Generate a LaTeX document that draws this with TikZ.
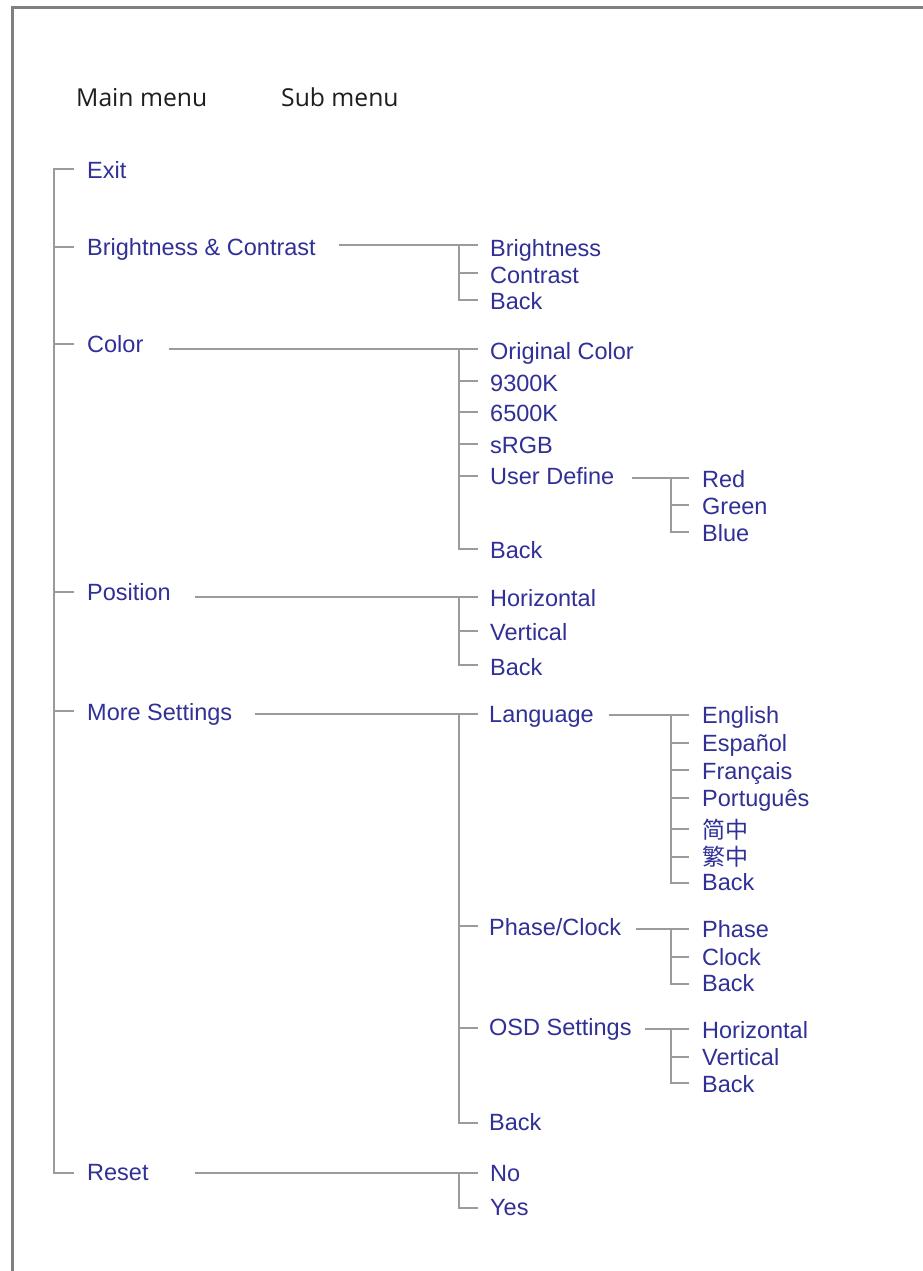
\documentclass[tikz,border=0pt]{standalone}
\usepackage{fontspec}
\setmainfont{Liberation Sans}
\newfontfamily\headfont{Open Sans}
\newfontfamily\cjk{Noto Sans CJK SC}
\definecolor{txtblue}{RGB}{48,48,150}
\definecolor{linegray}{RGB}{155,155,155}
\definecolor{framegray}{RGB}{128,128,128}
\definecolor{headgray}{RGB}{30,30,30}
% name, tick x0, tick x1, text x, tick y, baseline y, text
\newcommand\mitem[7]{%
  \coordinate (#1-a) at (#2,#5);
  \coordinate (#1-b) at (#3,#5);
  \node[lbl] (#1) at (#4,#6) {#7};
  \draw[ln] (#1-a) -- (#1-b);
}
\begin{document}
\begin{tikzpicture}[x=1pt,y=-1pt,
  lbl/.style={inner sep=0pt, anchor=base west, text=txtblue, font=\fontsize{23.5}{26}\selectfont},
  head/.style={inner sep=0pt, anchor=base west, text=headgray, font=\headfont\fontsize{24.7}{27}\selectfont},
  ln/.style={draw=linegray, line width=2.2pt, line cap=rect},
  frame/.style={draw=framegray, line width=3pt}]
\useasboundingbox (0,0) rectangle (923,1271);
\fill[white] (0,0) rectangle (923,1271);
\draw[frame] (12,1271) -- (12,8) -- (923,8);

\node[head] (mainh) at (76,107) {Main menu};
\node[head] (subh) at (281,107) {Sub menu};

% main menu
\mitem{exit}{54}{73}{87}{169}{178}{Exit}
\mitem{bc}{54}{73}{87}{247}{255}{Brightness \& Contrast}
\mitem{color}{54}{73}{87}{344}{352}{Color}
\mitem{pos}{54}{73}{87}{592}{600}{Position}
\mitem{more}{54}{73}{87}{711}{720}{More Settings}
\mitem{reset}{54}{73}{87}{1173}{1180}{Reset}
\draw[ln] (exit-a) -- (reset-a);

% Brightness & Contrast
\mitem{bright}{459}{477}{490}{245}{256}{Brightness}
\mitem{contrast}{459}{477}{490}{273}{283}{Contrast}
\mitem{bback}{459}{477}{490}{300}{309}{Back}
\draw[ln] (bright-a) -- (bback-a);
\coordinate (bc-o) at (340,245);
\draw[ln] (bc-o) -- (bright-b);

% Color
\mitem{orig}{459}{477}{490}{349}{359}{Original Color}
\mitem{k93}{459}{477}{490}{381}{391}{9300K}
\mitem{k65}{459}{477}{490}{412}{421}{6500K}
\mitem{srgb}{459}{477}{490}{444}{453}{sRGB}
\mitem{user}{459}{477}{490}{476}{484}{User Define}
\mitem{cback}{459}{477}{490}{549}{558}{Back}
\draw[ln] (orig-a) -- (cback-a);
\coordinate (color-o) at (170,349);
\draw[ln] (color-o) -- (orig-b);

\mitem{red}{671}{688}{702}{478}{487}{Red}
\mitem{green}{671}{688}{702}{505}{514}{Green}
\mitem{blue}{671}{688}{702}{532}{541}{Blue}
\draw[ln] (red-a) -- (blue-a);
\coordinate (user-o) at (633,478);
\draw[ln] (user-o) -- (red-b);

% Position
\mitem{horiz}{459}{477}{490}{597}{606}{Horizontal}
\mitem{vert}{459}{477}{490}{631}{640}{Vertical}
\mitem{pback}{459}{477}{490}{665}{675}{Back}
\draw[ln] (horiz-a) -- (pback-a);
\coordinate (pos-o) at (196,597);
\draw[ln] (pos-o) -- (horiz-b);

% More Settings
\mitem{lang}{459}{477}{489}{714}{722}{Language}
\mitem{pc}{459}{477}{489}{926}{935}{Phase/Clock}
\mitem{osd}{459}{477}{489}{1028}{1035}{OSD Settings}
\mitem{mback}{459}{477}{489}{1123}{1130}{Back}
\draw[ln] (lang-a) -- (mback-a);
\coordinate (more-o) at (256,714);
\draw[ln] (more-o) -- (lang-b);

\mitem{en}{671}{688}{702}{715}{723}{English}
\mitem{es}{671}{688}{702}{743}{751}{Español}
\mitem{fr}{671}{688}{702}{770}{779}{Français}
\mitem{pt}{671}{688}{702}{798}{806}{Português}
\mitem{zhs}{671}{688}{702}{829}{838}{\cjk\fontsize{23}{26}\selectfont 简中}
\mitem{zht}{671}{688}{702}{857}{865}{\cjk\fontsize{23}{26}\selectfont 繁中}
\mitem{lback}{671}{688}{702}{883}{890}{Back}
\draw[ln] (en-a) -- (lback-a);
\coordinate (lang-o) at (610,715);
\draw[ln] (lang-o) -- (en-b);

\mitem{phase}{671}{688}{702}{929}{937}{Phase}
\mitem{clock}{671}{688}{702}{957}{965}{Clock}
\mitem{pcback}{671}{688}{702}{984}{991}{Back}
\draw[ln] (phase-a) -- (pcback-a);
\coordinate (pc-o) at (637,929);
\draw[ln] (pc-o) -- (phase-b);

\mitem{oh}{671}{688}{702}{1029}{1038}{Horizontal}
\mitem{ov}{671}{688}{702}{1057}{1065}{Vertical}
\mitem{oback}{671}{688}{702}{1083}{1092}{Back}
\draw[ln] (oh-a) -- (oback-a);
\coordinate (osd-o) at (646,1029);
\draw[ln] (osd-o) -- (oh-b);

% Reset
\mitem{no}{459}{477}{490}{1173}{1181}{No}
\mitem{yes}{459}{477}{490}{1208}{1215}{Yes}
\draw[ln] (no-a) -- (yes-a);
\coordinate (reset-o) at (196,1173);
\draw[ln] (reset-o) -- (no-b);
\end{tikzpicture}
\end{document}
